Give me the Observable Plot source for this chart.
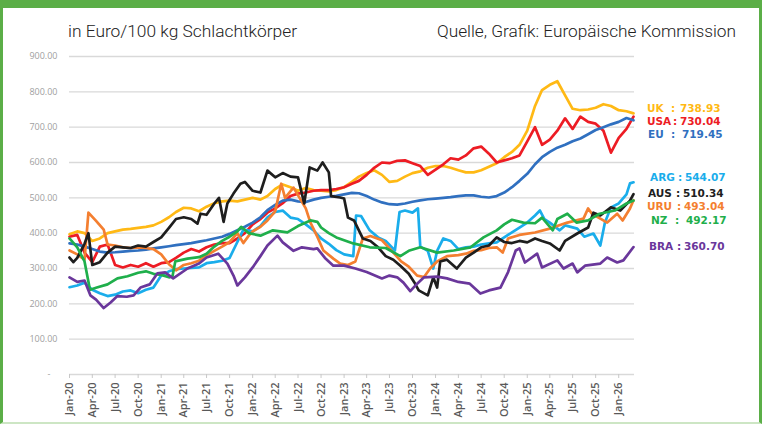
<!DOCTYPE html>
<html><head><meta charset="utf-8">
<script src="https://cdn.jsdelivr.net/npm/d3@7"></script>
<script src="https://cdn.jsdelivr.net/npm/@observablehq/plot@0.6"></script>
<style>
html,body{margin:0;padding:0;background:#fff;}
#wrap{position:relative;width:762px;height:424px;overflow:hidden;background:#fff;font-family:"Open Sans",sans-serif;}
#wrap svg.plot{position:absolute;left:0;top:0;}
#frame{position:absolute;left:0;top:0;width:762px;height:424px;box-sizing:border-box;border-left:3px solid #5BAE47;border-right:3px solid #5BAE47;border-top:8px solid #5BAE47;border-bottom:2px solid #CDE6C4;pointer-events:none;}
.lab{position:absolute;font-family:"DejaVu Sans",sans-serif;font-weight:700;font-size:10.5px;line-height:11px;height:11px;white-space:pre;}
#titles{position:absolute;left:0;top:0;}
</style></head><body><div id="wrap"></div>
<script>
// ---------- data (month index from Jan 2020, value in EUR/100 kg) ----------
const seriesNames = ["UK","USA","EU","ARG","URU","AUS","NZ","BRA"];
const seriesColors = ["#FFB915","#ED1C24","#3070C0","#1AADEB","#F47F30","#1E1E1E","#1FAF4B","#6A379B"];
const lastValues = [738.93, 730.04, 719.45, 544.07, 493.04, 510.34, 492.17, 360.70];

const UK = [[0,397],[1,405],[2,400],[3,378],[4,385],[5,400],[6,405],[7,410],[8,412],[9,415],[10,418],[11,422],[12,432],[13,445],[14,460],[15,472],[16,470],[17,462],[18,475],[19,485],[20,490],[21,492],[22,490],[23,495],[24,500],[25,495],[26,505],[27,525],[28,538],[29,530],[30,520],[31,528],[32,522],[33,520],[34,518],[35,522],[36,530],[37,545],[38,560],[39,570],[40,578],[41,565],[42,545],[43,548],[44,560],[45,570],[46,575],[47,585],[48,590],[49,590],[50,585],[51,578],[52,572],[53,572],[54,578],[55,588],[56,598],[57,615],[58,630],[59,650],[60,690],[61,760],[62,805],[63,820],[64,830],[65,790],[66,752],[67,748],[68,750],[69,755],[70,765],[71,760],[72,748],[73,745],[74,738.93]];
const USA = [[0,390],[1,395],[2,345],[3,318],[4,362],[5,368],[6,310],[7,303],[8,310],[9,305],[10,315],[11,305],[12,315],[13,318],[14,330],[15,345],[16,355],[17,348],[18,360],[19,368],[20,372],[21,372],[22,385],[23,400],[24,425],[25,440],[26,458],[27,470],[28,485],[29,505],[30,512],[31,515],[32,520],[33,522],[34,522],[35,525],[36,530],[37,540],[38,548],[39,565],[40,585],[41,600],[42,598],[43,605],[44,606],[45,598],[46,590],[47,565],[48,580],[49,595],[50,612],[51,608],[52,620],[53,640],[54,645],[55,625],[56,600],[57,606],[58,612],[59,620],[60,660],[61,700],[62,650],[63,665],[64,690],[65,725],[66,695],[67,730],[68,715],[69,710],[70,690],[71,628],[72,670],[73,695],[74,730.04]];
const EU = [[0,371],[1,368],[2,362],[3,355],[4,348],[5,345],[6,346],[7,348],[8,350],[9,351],[10,353],[11,357],[12,360],[13,363],[14,366],[15,369],[16,372],[17,376],[18,380],[19,385],[20,390],[21,398],[22,408],[23,418],[24,430],[25,445],[26,465],[27,480],[28,492],[29,495],[30,490],[31,488],[32,495],[33,500],[34,503],[35,506],[36,510],[37,514],[38,513],[39,505],[40,495],[41,487],[42,482],[43,481],[44,484],[45,489],[46,493],[47,496],[48,498],[49,500],[50,502],[51,505],[52,507],[53,507],[54,503],[55,501],[56,505],[57,515],[58,530],[59,548],[60,568],[61,595],[62,615],[63,630],[64,642],[65,650],[66,660],[67,668],[68,680],[69,692],[70,700],[71,708],[72,715],[73,726],[74,719.45]];
const ARG = [[0,247],[1,252],[2,260],[3,240],[4,230],[5,222],[6,226],[7,235],[8,238],[9,230],[10,240],[11,246],[12,280],[13,292],[14,298],[15,300],[16,302],[17,303],[18,315],[19,318],[20,322],[21,330],[22,375],[22.8,410],[24,405],[25,420],[26,445],[27,460],[28,464],[29,444],[30,440],[31,425],[32,408],[33,385],[34,370],[35,352],[36,340],[37.2,335],[37.6,450],[38.3,448],[39.4,408],[40.5,388],[41.5,378],[42.7,351],[43.3,460],[44,464],[45,458],[45.7,470],[46,362],[47,350],[47.7,300],[48.2,350],[49,385],[50,378],[51,355],[52,360],[53,362],[54,368],[55,371],[56,374],[57,388],[58,402],[59,416],[60,430],[61,450],[61.7,464],[62.3,440],[63,430],[64.3,408],[65,422],[66.6,413],[67.5,390],[68.7,399],[69.6,365],[70.2,430],[71,473],[72,484],[73,510],[73.5,541],[74,544.07]];
const URU = [[0,351],[1,340],[2,325],[2.5,458],[3.5,435],[4.5,410],[5,368],[6,365],[7,360],[8,358],[9,360],[10,358],[11,355],[12,340],[13,312],[14,295],[15,310],[16,315],[17,322],[18,337],[19,350],[20,362],[21,375],[22,400],[22.8,372],[23.5,393],[24,405],[25,418],[26,436],[27,462],[27.8,540],[28.3,500],[29.4,529],[30.2,500],[31,470],[31.6,430],[32.5,390],[33.3,351],[34.6,328],[35.5,314],[36.5,310],[37.5,320],[38.5,385],[39.5,392],[41,380],[42.3,350],[43.5,320],[44.5,305],[45.6,280],[46.5,276],[47.3,300],[48.2,320],[49.5,335],[51,338],[52,342],[53,350],[54,352],[55,358],[56,360],[56.8,345],[57.5,385],[59,395],[61,402],[63,413],[65.3,430],[67.4,441],[68,470],[68.5,455],[69.6,441],[70.5,430],[71.8,455],[72.5,436],[73.5,470],[74,493.04]];
const AUS = [[0,331],[0.5,318],[1,330],[2,370],[2.5,400],[3,310],[4,318],[5,345],[6,362],[7,360],[8,358],[9,365],[10,362],[11,375],[12,388],[13,415],[14,440],[15,445],[16,440],[16.8,427],[17.2,455],[18,452],[19,484],[19.6,500],[20.2,432],[20.7,484],[21.5,512],[22.4,540],[23,545],[24,520],[25,515],[26,577],[27,558],[28,570],[29,560],[30,558],[30.8,484],[31.5,586],[32.5,577],[33.2,600],[34,572],[34.3,505],[35.5,501],[36,498],[36.5,444],[37.3,436],[38.5,385],[39.5,378],[40.5,360],[41.5,335],[42.5,325],[43.4,308],[44.5,285],[45.2,262],[45.8,238],[47,224],[47.7,275],[48.2,246],[48.6,320],[49.5,325],[50.8,300],[52,331],[53,345],[54,360],[55,365],[56,388],[57,375],[58,372],[59,378],[60,374],[61,385],[62,378],[63,371],[64.3,351],[65,378],[66.6,399],[68,416],[68.7,458],[69.6,450],[71,473],[72.2,464],[73.5,492],[74,510.34]];
const NZ = [[0,385],[1,360],[2,320],[2.7,240],[3.6,246],[5,255],[6.3,272],[7.6,278],[9,288],[10,292],[11,285],[12,282],[13,275],[13.5,278],[13.9,320],[15.5,328],[17,332],[18,342],[19,362],[20,378],[21,390],[22,405],[22.5,418],[23.5,400],[25,393],[26.7,408],[28.6,402],[30,420],[31.6,436],[32.5,432],[33,416],[34,400],[35,388],[37.2,371],[39.4,360],[41.5,358],[43.4,335],[44.5,350],[46,360],[48.2,345],[50.4,351],[52.6,360],[54.3,388],[56,408],[57,425],[58,438],[59.5,430],[61,428],[62,444],[63.4,408],[64,440],[65.3,455],[66.5,430],[68,436],[69.5,455],[71.5,464],[73,484],[74,492.17]];
const BRA = [[0,275],[1,262],[2,266],[2.75,224],[3.5,212],[4.5,188],[5.4,204],[6.3,222],[7.5,220],[8.4,224],[9.3,246],[10.5,255],[11.5,286],[12.5,289],[13.6,272],[15.5,300],[17,314],[18,331],[19.5,342],[20.7,314],[21.5,280],[22,252],[23,275],[24,303],[25,335],[26,365],[27.3,393],[28,374],[29.4,350],[30.5,360],[32,355],[32.5,357],[33.5,330],[34.6,308],[36,308],[37.5,300],[39,290],[41,272],[42,280],[43,275],[43.8,260],[44.7,236],[45.6,257],[46.5,275],[48.2,277],[49.5,272],[51,262],[52.5,257],[53.9,229],[55,238],[56.5,246],[57.5,290],[58.5,351],[59,357],[59.7,317],[61.3,342],[62,303],[64,323],[64.8,300],[66,314],[66.6,289],[67.6,308],[69.6,314],[70.5,331],[71.8,317],[72.6,323],[74,360.7]];
const seriesValues = [UK, USA, EU, ARG, URU, AUS, NZ, BRA];

const xTickLabels = ["Jan-20","Apr-20","Jul-20","Oct-20","Jan-21","Apr-21","Jul-21","Oct-21","Jan-22","Apr-22","Jul-22","Oct-22","Jan-23","Apr-23","Jul-23","Oct-23","Jan-24","Apr-24","Jul-24","Oct-24","Jan-25","Apr-25","Jul-25","Oct-25","Jan-26"];
const yTicks = [0,100,200,300,400,500,600,700,800,900];

// ---------- layout ----------
const labelLayout = {
  UK:  {y:108, xn:647, xc:671, xv:680},
  USA: {y:121, xn:647, xc:673, xv:680},
  EU:  {y:134, xn:648, xc:671, xv:682},
  ARG: {y:177, xn:650, xc:678, xv:685},
  AUS: {y:193, xn:648, xc:676, xv:683},
  URU: {y:206, xn:647, xc:677, xv:684},
  NZ:  {y:220, xn:651, xc:675, xv:686},
  BRA: {y:246, xn:649, xc:677, xv:684}
};

const toDate = m => {
  const mi = Math.floor(m), f = m - mi;
  const d0 = Date.UTC(2020, mi, 1), d1 = Date.UTC(2020, mi + 1, 1);
  return new Date(d0 + f * (d1 - d0));
};
const rows = seriesNames.flatMap((name, i) => seriesValues[i].map(([m, v]) => ({name, date: toDate(m), value: v})));
const parseTick = d3.utcParse("%b-%y");
const xTicks = xTickLabels.map(parseTick);
const fmtTick = d3.utcFormat("%b-%y");

const chart = Plot.plot({
  width: 762, height: 424,
  marginLeft: 69, marginRight: 128, marginTop: 56, marginBottom: 50,
  style: {background: "transparent", fontFamily: "Open Sans, sans-serif", overflow: "visible"},
  x: {type: "utc", domain: [new Date(Date.UTC(2020,0,1)), new Date(Date.UTC(2026,2,5))], label: null},
  y: {domain: [0, 900], label: null},
  color: {domain: seriesNames, range: seriesColors},
  marks: [
    Plot.ruleY(yTicks, {stroke: "#d9d9d9", strokeWidth: 1.3}),
    Plot.axisY({ticks: yTicks, tickSize: 0, tickPadding: 12, fontSize: 9, color: "#a0a0a0", label: null,
      tickFormat: d => d === 0 ? "-\u00A0\u00A0\u00A0" : d.toFixed(2)}),
    Plot.axisX({ticks: xTicks, tickSize: 4, tickPadding: 0, tickFormat: () => "", stroke: "#c8c8c8", label: null}),
    Plot.axisX({ticks: xTicks, tickSize: 0, tickPadding: 8, tickRotate: -90, fontSize: 11, fontWeight: 600,
      color: "#595959", label: null, tickFormat: d => fmtTick(d)}),
    Plot.line(rows, {x: "date", y: "value", z: "name", stroke: "name", strokeWidth: 2.7, strokeLinejoin: "round", strokeLinecap: "round"})
  ]
});
chart.classList.add("plot");
const wrap = document.getElementById("wrap");
wrap.appendChild(chart);

// titles
const tsvg = d3.select(wrap).append("svg").attr("id","titles").attr("width",762).attr("height",60);
tsvg.append("text").attr("x",68).attr("y",37).attr("textLength",229).attr("lengthAdjust","spacingAndGlyphs")
  .attr("font-family","Roboto, sans-serif").attr("font-weight",300).attr("font-size",16).attr("fill","#222")
  .text("in Euro/100 kg Schlachtkörper");
tsvg.append("text").attr("x",437).attr("y",37).attr("textLength",299).attr("lengthAdjust","spacingAndGlyphs")
  .attr("font-family","Roboto, sans-serif").attr("font-weight",300).attr("font-size",16).attr("fill","#222")
  .text("Quelle, Grafik: Europäische Kommission");

// right labels
seriesNames.forEach((name, i) => {
  const L = labelLayout[name];
  const parts = [[name, L.xn], [":", L.xc], [lastValues[i].toFixed(2), L.xv]];
  parts.forEach(([t, x]) => {
    const d = document.createElement("div");
    d.className = "lab";
    d.style.left = x + "px";
    d.style.top = (L.y - 5.5) + "px";
    d.style.color = seriesColors[i];
    d.textContent = t;
    wrap.appendChild(d);
  });
});

const frame = document.createElement("div");
frame.id = "frame";
wrap.appendChild(frame);
</script></body></html>
